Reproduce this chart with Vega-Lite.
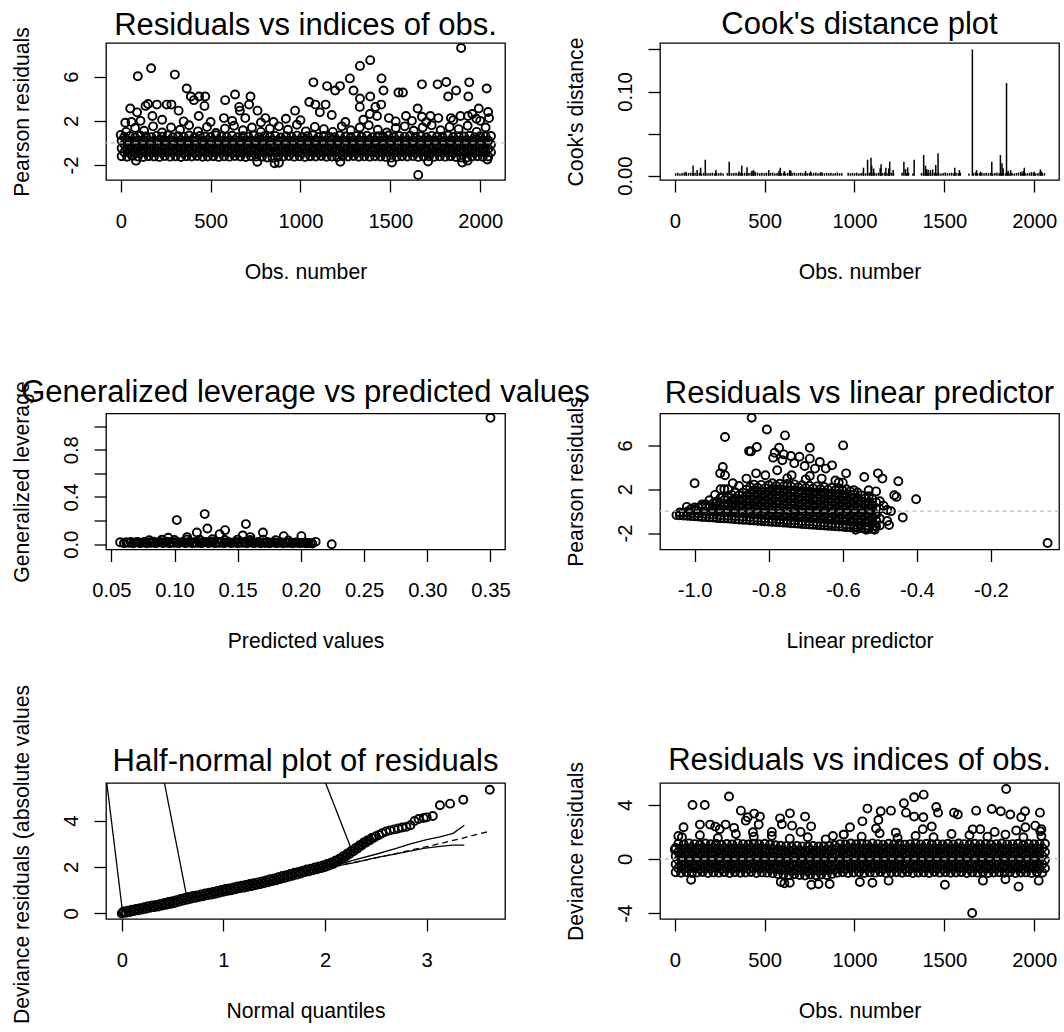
{
"$schema":"https://vega.github.io/schema/vega-lite/v6.json",
"autosize":{"type":"none"},
"padding":{"left":106,"top":43,"right":958,"bottom":989},
"background":"white",
"columns":2,
"spacing":{"row":233.5,"column":155},
"bounds":"flush",
"config":{
 "view":{"stroke":"black","strokeWidth":1.3},
 "font":"Liberation Sans",
 "axis":{"domain":false,"grid":false,"tickColor":"black","tickWidth":1.3,"tickSize":12,"labelFont":"Liberation Sans","labelFontSize":20.2,"labelColor":"black","labelOverlap":false,"labelFlush":false,"labelLimit":500,"titleFont":"Liberation Sans","titleFontSize":21.2,"titleFontWeight":"normal","titleColor":"black","titleLimit":1000},
 "axisX":{"labelPadding":19,"titleBaseline":"alphabetic"},
 "axisY":{"labelAngle":270,"labelAlign":"center","labelBaseline":"alphabetic","labelPadding":16.5,"titleBaseline":"alphabetic"},
 "title":{"font":"Liberation Sans","fontSize":31,"fontWeight":"normal","color":"black","anchor":"middle","frame":"group","baseline":"alphabetic","limit":2000},
 "point":{"shape":"circle","filled":false,"color":"black","strokeWidth":1.9,"size":64,"opacity":1}
},
"datasets":{
"p1":[
{"x":5,"y":-1.2},{"x":35,"y":-1.25},{"x":65,"y":-1.18},{"x":95,"y":-1.23},{"x":125,"y":-1.27},{"x":155,"y":-1.2},{"x":185,"y":-1.22},{"x":215,"y":-1.26},{"x":245,"y":-1.19},{"x":275,"y":-1.24},
{"x":305,"y":-1.21},{"x":335,"y":-1.27},{"x":365,"y":-1.2},{"x":395,"y":-1.23},{"x":425,"y":-1.18},{"x":455,"y":-1.25},{"x":485,"y":-1.22},{"x":515,"y":-1.2},{"x":545,"y":-1.26},{"x":575,"y":-1.21},
{"x":605,"y":-1.24},{"x":635,"y":-1.19},{"x":665,"y":-1.23},{"x":695,"y":-1.27},{"x":725,"y":-1.2},{"x":755,"y":-1.22},{"x":785,"y":-1.25},{"x":815,"y":-1.32},{"x":845,"y":-1.35},{"x":875,"y":-1.28},
{"x":905,"y":-1.22},{"x":935,"y":-1.19},{"x":965,"y":-1.24},{"x":995,"y":-1.21},{"x":1025,"y":-1.26},{"x":1055,"y":-1.2},{"x":1085,"y":-1.23},{"x":1115,"y":-1.18},{"x":1145,"y":-1.25},{"x":1175,"y":-1.22},
{"x":1205,"y":-1.27},{"x":1235,"y":-1.2},{"x":1265,"y":-1.23},{"x":1295,"y":-1.19},{"x":1325,"y":-1.25},{"x":1355,"y":-1.21},{"x":1385,"y":-1.24},{"x":1415,"y":-1.2},{"x":1445,"y":-1.22},{"x":1475,"y":-1.26},
{"x":1505,"y":-1.33},{"x":1535,"y":-1.24},{"x":1565,"y":-1.2},{"x":1595,"y":-1.23},{"x":1625,"y":-1.19},{"x":1655,"y":-1.26},{"x":1685,"y":-1.22},{"x":1715,"y":-1.2},{"x":1745,"y":-1.25},{"x":1775,"y":-1.21},
{"x":1805,"y":-1.24},{"x":1835,"y":-1.2},{"x":1865,"y":-1.27},{"x":1895,"y":-1.32},{"x":1925,"y":-1.34},{"x":1955,"y":-1.23},{"x":1985,"y":-1.2},{"x":2015,"y":-1.25},{"x":2045,"y":-1.22},
{"x":20,"y":-0.84},{"x":50,"y":-0.88},{"x":80,"y":-0.85},{"x":110,"y":-0.9},{"x":140,"y":-0.83},{"x":170,"y":-0.87},{"x":200,"y":-0.86},{"x":230,"y":-0.89},{"x":260,"y":-0.84},{"x":290,"y":-0.87},
{"x":320,"y":-0.85},{"x":350,"y":-0.9},{"x":380,"y":-0.83},{"x":410,"y":-0.88},{"x":440,"y":-0.86},{"x":470,"y":-0.84},{"x":500,"y":-0.89},{"x":530,"y":-0.85},{"x":560,"y":-0.87},{"x":590,"y":-0.83},
{"x":620,"y":-0.88},{"x":650,"y":-0.86},{"x":680,"y":-0.9},{"x":710,"y":-0.84},{"x":740,"y":-0.87},{"x":770,"y":-0.85},{"x":800,"y":-0.89},{"x":830,"y":-0.83},{"x":860,"y":-0.88},{"x":890,"y":-0.86},
{"x":920,"y":-0.84},{"x":950,"y":-0.87},{"x":980,"y":-0.85},{"x":1010,"y":-0.9},{"x":1040,"y":-0.86},{"x":1070,"y":-0.83},{"x":1100,"y":-0.88},{"x":1130,"y":-0.85},{"x":1160,"y":-0.87},{"x":1190,"y":-0.84},
{"x":1220,"y":-0.89},{"x":1250,"y":-0.86},{"x":1280,"y":-0.84},{"x":1310,"y":-0.88},{"x":1340,"y":-0.85},{"x":1370,"y":-0.87},{"x":1400,"y":-0.83},{"x":1430,"y":-0.9},{"x":1460,"y":-0.86},{"x":1490,"y":-0.84},
{"x":1520,"y":-0.88},{"x":1550,"y":-0.85},{"x":1580,"y":-0.87},{"x":1610,"y":-0.83},{"x":1640,"y":-0.89},{"x":1670,"y":-0.86},{"x":1700,"y":-0.84},{"x":1730,"y":-0.88},{"x":1760,"y":-0.85},{"x":1790,"y":-0.87},
{"x":1820,"y":-0.86},{"x":1850,"y":-0.9},{"x":1880,"y":-0.84},{"x":1910,"y":-0.87},{"x":1940,"y":-0.85},{"x":1970,"y":-0.88},{"x":2000,"y":-0.83},{"x":2030,"y":-0.86},{"x":2060,"y":-0.84},
{"x":5,"y":-0.48},{"x":35,"y":-0.52},{"x":65,"y":-0.5},{"x":95,"y":-0.46},{"x":125,"y":-0.53},{"x":155,"y":-0.49},{"x":185,"y":-0.51},{"x":215,"y":-0.47},{"x":245,"y":-0.54},{"x":275,"y":-0.5},
{"x":305,"y":-0.52},{"x":335,"y":-0.48},{"x":365,"y":-0.5},{"x":395,"y":-0.53},{"x":425,"y":-0.47},{"x":455,"y":-0.51},{"x":485,"y":-0.49},{"x":515,"y":-0.54},{"x":545,"y":-0.5},{"x":575,"y":-0.46},
{"x":605,"y":-0.52},{"x":635,"y":-0.49},{"x":665,"y":-0.51},{"x":695,"y":-0.47},{"x":725,"y":-0.53},{"x":755,"y":-0.5},{"x":785,"y":-0.48},{"x":815,"y":-0.52},{"x":845,"y":-0.46},{"x":875,"y":-0.51},
{"x":905,"y":-0.49},{"x":935,"y":-0.53},{"x":965,"y":-0.5},{"x":995,"y":-0.47},{"x":1025,"y":-0.52},{"x":1055,"y":-0.48},{"x":1085,"y":-0.54},{"x":1115,"y":-0.5},{"x":1145,"y":-0.51},{"x":1175,"y":-0.47},
{"x":1205,"y":-0.53},{"x":1235,"y":-0.49},{"x":1265,"y":-0.5},{"x":1295,"y":-0.52},{"x":1325,"y":-0.46},{"x":1355,"y":-0.51},{"x":1385,"y":-0.48},{"x":1415,"y":-0.53},{"x":1445,"y":-0.5},{"x":1475,"y":-0.49},
{"x":1505,"y":-0.52},{"x":1535,"y":-0.47},{"x":1565,"y":-0.51},{"x":1595,"y":-0.5},{"x":1625,"y":-0.54},{"x":1655,"y":-0.48},{"x":1685,"y":-0.52},{"x":1715,"y":-0.49},{"x":1745,"y":-0.46},{"x":1775,"y":-0.51},
{"x":1805,"y":-0.5},{"x":1835,"y":-0.53},{"x":1865,"y":-0.48},{"x":1895,"y":-0.51},{"x":1925,"y":-0.49},{"x":1955,"y":-0.52},{"x":1985,"y":-0.47},{"x":2015,"y":-0.5},{"x":2045,"y":-0.53},
{"x":20,"y":-0.12},{"x":50,"y":-0.16},{"x":80,"y":-0.13},{"x":110,"y":-0.1},{"x":140,"y":-0.17},{"x":170,"y":-0.14},{"x":200,"y":-0.11},{"x":230,"y":-0.15},{"x":260,"y":-0.18},{"x":290,"y":-0.13},
{"x":320,"y":-0.15},{"x":350,"y":-0.11},{"x":380,"y":-0.14},{"x":410,"y":-0.17},{"x":440,"y":-0.12},{"x":470,"y":-0.16},{"x":500,"y":-0.13},{"x":530,"y":-0.1},{"x":560,"y":-0.15},{"x":590,"y":-0.14},
{"x":620,"y":-0.17},{"x":650,"y":-0.12},{"x":680,"y":-0.15},{"x":710,"y":-0.13},{"x":740,"y":-0.11},{"x":770,"y":-0.16},{"x":800,"y":-0.14},{"x":830,"y":-0.18},{"x":860,"y":-0.12},{"x":890,"y":-0.15},
{"x":920,"y":-0.13},{"x":950,"y":-0.16},{"x":980,"y":-0.1},{"x":1010,"y":-0.14},{"x":1040,"y":-0.17},{"x":1070,"y":-0.12},{"x":1100,"y":-0.15},{"x":1130,"y":-0.13},{"x":1160,"y":-0.16},{"x":1190,"y":-0.11},
{"x":1220,"y":-0.14},{"x":1250,"y":-0.18},{"x":1280,"y":-0.12},{"x":1310,"y":-0.15},{"x":1340,"y":-0.13},{"x":1370,"y":-0.16},{"x":1400,"y":-0.1},{"x":1430,"y":-0.14},{"x":1460,"y":-0.17},{"x":1490,"y":-0.12},
{"x":1520,"y":-0.15},{"x":1550,"y":-0.13},{"x":1580,"y":-0.16},{"x":1610,"y":-0.11},{"x":1640,"y":-0.14},{"x":1670,"y":-0.17},{"x":1700,"y":-0.12},{"x":1730,"y":-0.15},{"x":1760,"y":-0.13},{"x":1790,"y":-0.16},
{"x":1820,"y":-0.1},{"x":1850,"y":-0.14},{"x":1880,"y":-0.17},{"x":1910,"y":-0.12},{"x":1940,"y":-0.15},{"x":1970,"y":-0.13},{"x":2000,"y":-0.16},{"x":2030,"y":-0.11},{"x":2060,"y":-0.14},
{"x":5,"y":0.2},{"x":35,"y":0.25},{"x":65,"y":0.18},{"x":95,"y":0.23},{"x":125,"y":0.27},{"x":155,"y":0.21},{"x":185,"y":0.19},{"x":215,"y":0.24},{"x":245,"y":0.22},{"x":275,"y":0.26},
{"x":305,"y":0.17},{"x":335,"y":0.23},{"x":365,"y":0.2},{"x":395,"y":0.25},{"x":425,"y":0.22},{"x":455,"y":0.18},{"x":485,"y":0.26},{"x":515,"y":0.21},{"x":545,"y":0.24},{"x":575,"y":0.19},
{"x":605,"y":0.23},{"x":635,"y":0.27},{"x":665,"y":0.2},{"x":695,"y":0.22},{"x":725,"y":0.25},{"x":755,"y":0.18},{"x":785,"y":0.24},{"x":815,"y":0.21},{"x":845,"y":0.26},{"x":875,"y":0.2},
{"x":905,"y":0.23},{"x":935,"y":0.19},{"x":965,"y":0.25},{"x":995,"y":0.22},{"x":1025,"y":0.27},{"x":1055,"y":0.2},{"x":1085,"y":0.24},{"x":1115,"y":0.18},{"x":1145,"y":0.22},{"x":1175,"y":0.26},
{"x":1205,"y":0.21},{"x":1235,"y":0.24},{"x":1265,"y":0.19},{"x":1295,"y":0.23},{"x":1325,"y":0.25},{"x":1355,"y":0.2},{"x":1385,"y":0.27},{"x":1415,"y":0.22},{"x":1445,"y":0.18},{"x":1475,"y":0.24},
{"x":1505,"y":0.21},{"x":1535,"y":0.26},{"x":1565,"y":0.2},{"x":1595,"y":0.23},{"x":1625,"y":0.19},{"x":1655,"y":0.25},{"x":1685,"y":0.22},{"x":1715,"y":0.27},{"x":1745,"y":0.2},{"x":1775,"y":0.24},
{"x":1805,"y":0.18},{"x":1835,"y":0.23},{"x":1865,"y":0.26},{"x":1895,"y":0.21},{"x":1925,"y":0.24},{"x":1955,"y":0.19},{"x":1985,"y":0.22},{"x":2015,"y":0.25},{"x":2045,"y":0.2},
{"x":20,"y":0.55},{"x":50,"y":0.62},{"x":80,"y":0.5},{"x":110,"y":0.66},{"x":140,"y":0.58},{"x":170,"y":0.53},{"x":200,"y":0.64},{"x":230,"y":0.57},{"x":260,"y":0.69},{"x":290,"y":0.52},
{"x":320,"y":0.6},{"x":350,"y":0.56},{"x":380,"y":0.67},{"x":410,"y":0.51},{"x":440,"y":0.63},{"x":470,"y":0.58},{"x":500,"y":0.54},{"x":530,"y":0.7},{"x":560,"y":0.59},{"x":590,"y":0.55},
{"x":620,"y":0.65},{"x":650,"y":0.52},{"x":680,"y":0.61},{"x":710,"y":0.57},{"x":740,"y":0.68},{"x":770,"y":0.53},{"x":800,"y":0.6},{"x":830,"y":0.56},{"x":860,"y":0.64},{"x":890,"y":0.5},
{"x":920,"y":0.62},{"x":950,"y":0.58},{"x":980,"y":0.66},{"x":1010,"y":0.54},{"x":1040,"y":0.6},{"x":1070,"y":0.69},{"x":1100,"y":0.55},{"x":1130,"y":0.63},{"x":1160,"y":0.57},{"x":1190,"y":0.52},
{"x":1220,"y":0.67},{"x":1250,"y":0.59},{"x":1280,"y":0.54},{"x":1310,"y":0.62},{"x":1340,"y":0.56},{"x":1370,"y":0.65},{"x":1400,"y":0.51},{"x":1430,"y":0.6},{"x":1460,"y":0.58},{"x":1490,"y":0.68},
{"x":1520,"y":0.53},{"x":1550,"y":0.63},{"x":1580,"y":0.57},{"x":1610,"y":0.66},{"x":1640,"y":0.55},{"x":1670,"y":0.61},{"x":1700,"y":0.52},{"x":1730,"y":0.64},{"x":1760,"y":0.59},{"x":1790,"y":0.56},
{"x":1820,"y":0.68},{"x":1850,"y":0.54},{"x":1880,"y":0.62},{"x":1910,"y":0.58},{"x":1940,"y":0.65},{"x":1970,"y":0.51},{"x":2000,"y":0.6},{"x":2030,"y":0.57},{"x":2060,"y":0.63},
{"x":30,"y":1.0},{"x":80,"y":1.35},{"x":130,"y":1.1},{"x":180,"y":1.5},{"x":230,"y":0.95},{"x":280,"y":1.4},{"x":330,"y":1.2},{"x":380,"y":1.6},{"x":430,"y":1.05},{"x":480,"y":1.45},{"x":530,"y":0.9},{"x":580,"y":1.3},{"x":630,"y":1.55},{"x":680,"y":1.15},{"x":730,"y":1.4},{"x":780,"y":1.0},{"x":830,"y":1.3},{"x":880,"y":1.5},{"x":930,"y":1.2},{"x":980,"y":1.65},{"x":1030,"y":1.05},{"x":1080,"y":1.45},{"x":1130,"y":1.25},{"x":1180,"y":1.0},{"x":1230,"y":1.5},{"x":1280,"y":1.15},{"x":1330,"y":1.4},{"x":1380,"y":1.6},{"x":1430,"y":1.2},{"x":1480,"y":0.95},{"x":1530,"y":1.35},{"x":1580,"y":1.5},{"x":1630,"y":1.1},{"x":1680,"y":1.4},{"x":1730,"y":1.6},{"x":1780,"y":1.15},{"x":1830,"y":1.45},{"x":1880,"y":1.25},{"x":1930,"y":1.55},{"x":1980,"y":1.0},{"x":2030,"y":1.4},
{"x":1894,"y":8.58},{"x":1388,"y":7.49},{"x":1331,"y":6.97},{"x":169,"y":6.76},{"x":95,"y":6.03},{"x":301,"y":6.18},{"x":1072,"y":5.48},{"x":1275,"y":5.84},{"x":1451,"y":5.84},{"x":1939,"y":5.48},{"x":1676,"y":5.3},{"x":1763,"y":5.3},{"x":1811,"y":5.51},{"x":2036,"y":4.93},{"x":1148,"y":5.14},{"x":1193,"y":4.75},{"x":1220,"y":5.14},{"x":1295,"y":4.75},{"x":1462,"y":4.75},{"x":1866,"y":4.75},{"x":367,"y":4.93},{"x":636,"y":4.38},{"x":1545,"y":4.57},{"x":1570,"y":4.57},{"x":1822,"y":4.2},{"x":1934,"y":4.2},{"x":1388,"y":4.2},{"x":1331,"y":4.02},{"x":390,"y":4.2},{"x":407,"y":3.87},{"x":436,"y":4.2},{"x":470,"y":4.2},{"x":722,"y":4.2},{"x":581,"y":3.87},{"x":466,"y":3.35},{"x":1049,"y":3.71},{"x":1083,"y":3.47},{"x":1140,"y":3.47},{"x":1330,"y":3.26},{"x":1417,"y":3.26},{"x":1449,"y":3.47},{"x":714,"y":3.47},{"x":659,"y":3.26},{"x":1652,"y":3.11},{"x":1992,"y":3.11},{"x":53,"y":3.11},{"x":138,"y":3.35},{"x":152,"y":3.53},{"x":256,"y":3.47},{"x":282,"y":3.47},{"x":201,"y":3.47},{"x":322,"y":2.92},{"x":91,"y":2.77},{"x":970,"y":2.92},{"x":761,"y":2.92},{"x":663,"y":2.92},{"x":2044,"y":2.8},{"x":1108,"y":2.77},{"x":1174,"y":2.53},{"x":1386,"y":2.62},{"x":1426,"y":2.44},{"x":1932,"y":2.44},{"x":1956,"y":2.62},{"x":2049,"y":2.25},{"x":1587,"y":2.44},{"x":1676,"y":2.37},{"x":1723,"y":2.44},{"x":1767,"y":2.25},{"x":1837,"y":2.25},{"x":1890,"y":2.44},{"x":434,"y":2.44},{"x":574,"y":2.25},{"x":693,"y":2.25},{"x":805,"y":2.25},{"x":919,"y":2.19},{"x":1492,"y":2.25},{"x":1979,"y":2.19},{"x":176,"y":2.44},{"x":0,"y":0.73},{"x":25,"y":1.83},{"x":1655,"y":-2.89},{"x":85,"y":-1.6},{"x":856,"y":-1.83},{"x":1509,"y":-1.77},{"x":1900,"y":-1.77},{"x":1222,"y":-1.7},{"x":1710,"y":-1.68},{"x":1930,"y":-1.6},{"x":2040,"y":-1.5},{"x":760,"y":-1.7},{"x":880,"y":-1.8},
{"x":60,"y":1.9},{"x":110,"y":2.0},{"x":230,"y":2.1},{"x":350,"y":1.95},{"x":500,"y":1.9},{"x":620,"y":2.0},{"x":780,"y":1.85},{"x":850,"y":1.9},{"x":1000,"y":2.05},{"x":1250,"y":1.9},{"x":1350,"y":2.1},{"x":1530,"y":1.95},{"x":1620,"y":2.0},{"x":1700,"y":1.9},{"x":1850,"y":2.05},{"x":2000,"y":2.0}
],
"p6":[
{"x":5,"y":-0.98},{"x":35,"y":-1.02},{"x":65,"y":-0.97},{"x":95,"y":-1.03},{"x":125,"y":-1.0},{"x":155,"y":-0.96},{"x":185,"y":-1.04},{"x":215,"y":-0.99},{"x":245,"y":-1.01},{"x":275,"y":-0.97},
{"x":305,"y":-1.03},{"x":335,"y":-0.98},{"x":365,"y":-1.02},{"x":395,"y":-1.0},{"x":425,"y":-0.96},{"x":455,"y":-1.04},{"x":485,"y":-0.99},{"x":515,"y":-1.01},{"x":545,"y":-1.06},{"x":575,"y":-1.12},
{"x":605,"y":-1.15},{"x":635,"y":-1.2},{"x":665,"y":-1.13},{"x":695,"y":-1.18},{"x":725,"y":-1.22},{"x":755,"y":-1.15},{"x":785,"y":-1.2},{"x":815,"y":-1.14},{"x":845,"y":-1.18},{"x":875,"y":-1.1},
{"x":905,"y":-1.02},{"x":935,"y":-0.98},{"x":965,"y":-1.03},{"x":995,"y":-1.0},{"x":1025,"y":-0.97},{"x":1055,"y":-1.04},{"x":1085,"y":-0.99},{"x":1115,"y":-1.01},{"x":1145,"y":-0.96},{"x":1175,"y":-1.03},
{"x":1205,"y":-1.0},{"x":1235,"y":-0.98},{"x":1265,"y":-1.02},{"x":1295,"y":-0.97},{"x":1325,"y":-1.04},{"x":1355,"y":-1.0},{"x":1385,"y":-0.99},{"x":1415,"y":-1.03},{"x":1445,"y":-0.96},{"x":1475,"y":-1.01},
{"x":1505,"y":-0.98},{"x":1535,"y":-1.02},{"x":1565,"y":-1.0},{"x":1595,"y":-0.97},{"x":1625,"y":-1.04},{"x":1655,"y":-0.99},{"x":1685,"y":-1.01},{"x":1715,"y":-0.96},{"x":1745,"y":-1.03},{"x":1775,"y":-1.0},
{"x":1805,"y":-0.98},{"x":1835,"y":-1.02},{"x":1865,"y":-0.97},{"x":1895,"y":-1.04},{"x":1925,"y":-1.0},{"x":1955,"y":-0.99},{"x":1985,"y":-1.03},{"x":2015,"y":-0.98},{"x":2045,"y":-1.01},
{"x":20,"y":-0.68},{"x":50,"y":-0.72},{"x":80,"y":-0.7},{"x":110,"y":-0.66},{"x":140,"y":-0.73},{"x":170,"y":-0.69},{"x":200,"y":-0.71},{"x":230,"y":-0.67},{"x":260,"y":-0.74},{"x":290,"y":-0.7},
{"x":320,"y":-0.72},{"x":350,"y":-0.68},{"x":380,"y":-0.7},{"x":410,"y":-0.73},{"x":440,"y":-0.67},{"x":470,"y":-0.71},{"x":500,"y":-0.69},{"x":530,"y":-0.74},{"x":560,"y":-0.76},{"x":590,"y":-0.82},
{"x":620,"y":-0.85},{"x":650,"y":-0.88},{"x":680,"y":-0.83},{"x":710,"y":-0.87},{"x":740,"y":-0.9},{"x":770,"y":-0.84},{"x":800,"y":-0.88},{"x":830,"y":-0.86},{"x":860,"y":-0.83},{"x":890,"y":-0.78},
{"x":920,"y":-0.7},{"x":950,"y":-0.73},{"x":980,"y":-0.68},{"x":1010,"y":-0.71},{"x":1040,"y":-0.69},{"x":1070,"y":-0.72},{"x":1100,"y":-0.67},{"x":1130,"y":-0.7},{"x":1160,"y":-0.73},{"x":1190,"y":-0.68},
{"x":1220,"y":-0.71},{"x":1250,"y":-0.69},{"x":1280,"y":-0.74},{"x":1310,"y":-0.7},{"x":1340,"y":-0.67},{"x":1370,"y":-0.72},{"x":1400,"y":-0.68},{"x":1430,"y":-0.71},{"x":1460,"y":-0.7},{"x":1490,"y":-0.73},
{"x":1520,"y":-0.69},{"x":1550,"y":-0.72},{"x":1580,"y":-0.67},{"x":1610,"y":-0.7},{"x":1640,"y":-0.74},{"x":1670,"y":-0.68},{"x":1700,"y":-0.71},{"x":1730,"y":-0.69},{"x":1760,"y":-0.73},{"x":1790,"y":-0.7},
{"x":1820,"y":-0.67},{"x":1850,"y":-0.72},{"x":1880,"y":-0.7},{"x":1910,"y":-0.68},{"x":1940,"y":-0.73},{"x":1970,"y":-0.69},{"x":2000,"y":-0.71},{"x":2030,"y":-0.7},{"x":2060,"y":-0.68},
{"x":5,"y":-0.38},{"x":35,"y":-0.42},{"x":65,"y":-0.4},{"x":95,"y":-0.36},{"x":125,"y":-0.43},{"x":155,"y":-0.39},{"x":185,"y":-0.41},{"x":215,"y":-0.37},{"x":245,"y":-0.44},{"x":275,"y":-0.4},
{"x":305,"y":-0.42},{"x":335,"y":-0.38},{"x":365,"y":-0.4},{"x":395,"y":-0.43},{"x":425,"y":-0.37},{"x":455,"y":-0.41},{"x":485,"y":-0.39},{"x":515,"y":-0.44},{"x":545,"y":-0.47},{"x":575,"y":-0.52},
{"x":605,"y":-0.55},{"x":635,"y":-0.58},{"x":665,"y":-0.53},{"x":695,"y":-0.57},{"x":725,"y":-0.6},{"x":755,"y":-0.54},{"x":785,"y":-0.58},{"x":815,"y":-0.56},{"x":845,"y":-0.53},{"x":875,"y":-0.48},
{"x":905,"y":-0.4},{"x":935,"y":-0.43},{"x":965,"y":-0.38},{"x":995,"y":-0.41},{"x":1025,"y":-0.39},{"x":1055,"y":-0.42},{"x":1085,"y":-0.37},{"x":1115,"y":-0.4},{"x":1145,"y":-0.43},{"x":1175,"y":-0.38},
{"x":1205,"y":-0.41},{"x":1235,"y":-0.39},{"x":1265,"y":-0.44},{"x":1295,"y":-0.4},{"x":1325,"y":-0.37},{"x":1355,"y":-0.42},{"x":1385,"y":-0.38},{"x":1415,"y":-0.41},{"x":1445,"y":-0.4},{"x":1475,"y":-0.43},
{"x":1505,"y":-0.39},{"x":1535,"y":-0.42},{"x":1565,"y":-0.37},{"x":1595,"y":-0.4},{"x":1625,"y":-0.44},{"x":1655,"y":-0.38},{"x":1685,"y":-0.41},{"x":1715,"y":-0.39},{"x":1745,"y":-0.43},{"x":1775,"y":-0.4},
{"x":1805,"y":-0.37},{"x":1835,"y":-0.42},{"x":1865,"y":-0.4},{"x":1895,"y":-0.38},{"x":1925,"y":-0.43},{"x":1955,"y":-0.39},{"x":1985,"y":-0.41},{"x":2015,"y":-0.4},{"x":2045,"y":-0.38},
{"x":20,"y":-0.08},{"x":50,"y":-0.12},{"x":80,"y":-0.1},{"x":110,"y":-0.06},{"x":140,"y":-0.13},{"x":170,"y":-0.09},{"x":200,"y":-0.11},{"x":230,"y":-0.07},{"x":260,"y":-0.14},{"x":290,"y":-0.1},
{"x":320,"y":-0.12},{"x":350,"y":-0.08},{"x":380,"y":-0.1},{"x":410,"y":-0.13},{"x":440,"y":-0.07},{"x":470,"y":-0.11},{"x":500,"y":-0.09},{"x":530,"y":-0.14},{"x":560,"y":-0.16},{"x":590,"y":-0.22},
{"x":620,"y":-0.25},{"x":650,"y":-0.28},{"x":680,"y":-0.23},{"x":710,"y":-0.27},{"x":740,"y":-0.3},{"x":770,"y":-0.24},{"x":800,"y":-0.28},{"x":830,"y":-0.26},{"x":860,"y":-0.23},{"x":890,"y":-0.18},
{"x":920,"y":-0.1},{"x":950,"y":-0.13},{"x":980,"y":-0.08},{"x":1010,"y":-0.11},{"x":1040,"y":-0.09},{"x":1070,"y":-0.12},{"x":1100,"y":-0.07},{"x":1130,"y":-0.1},{"x":1160,"y":-0.13},{"x":1190,"y":-0.08},
{"x":1220,"y":-0.11},{"x":1250,"y":-0.09},{"x":1280,"y":-0.14},{"x":1310,"y":-0.1},{"x":1340,"y":-0.07},{"x":1370,"y":-0.12},{"x":1400,"y":-0.08},{"x":1430,"y":-0.11},{"x":1460,"y":-0.1},{"x":1490,"y":-0.13},
{"x":1520,"y":-0.09},{"x":1550,"y":-0.12},{"x":1580,"y":-0.07},{"x":1610,"y":-0.1},{"x":1640,"y":-0.14},{"x":1670,"y":-0.08},{"x":1700,"y":-0.11},{"x":1730,"y":-0.09},{"x":1760,"y":-0.13},{"x":1790,"y":-0.1},
{"x":1820,"y":-0.07},{"x":1850,"y":-0.12},{"x":1880,"y":-0.1},{"x":1910,"y":-0.08},{"x":1940,"y":-0.13},{"x":1970,"y":-0.09},{"x":2000,"y":-0.11},{"x":2030,"y":-0.1},{"x":2060,"y":-0.08},
{"x":5,"y":0.22},{"x":35,"y":0.18},{"x":65,"y":0.2},{"x":95,"y":0.24},{"x":125,"y":0.17},{"x":155,"y":0.21},{"x":185,"y":0.19},{"x":215,"y":0.23},{"x":245,"y":0.16},{"x":275,"y":0.2},
{"x":305,"y":0.18},{"x":335,"y":0.22},{"x":365,"y":0.2},{"x":395,"y":0.17},{"x":425,"y":0.23},{"x":455,"y":0.19},{"x":485,"y":0.21},{"x":515,"y":0.16},{"x":545,"y":0.14},{"x":575,"y":0.08},
{"x":605,"y":0.05},{"x":635,"y":0.02},{"x":665,"y":0.07},{"x":695,"y":0.03},{"x":725,"y":0.0},{"x":755,"y":0.06},{"x":785,"y":0.02},{"x":815,"y":0.04},{"x":845,"y":0.07},{"x":875,"y":0.12},
{"x":905,"y":0.2},{"x":935,"y":0.17},{"x":965,"y":0.22},{"x":995,"y":0.19},{"x":1025,"y":0.21},{"x":1055,"y":0.18},{"x":1085,"y":0.23},{"x":1115,"y":0.2},{"x":1145,"y":0.17},{"x":1175,"y":0.22},
{"x":1205,"y":0.19},{"x":1235,"y":0.21},{"x":1265,"y":0.16},{"x":1295,"y":0.2},{"x":1325,"y":0.23},{"x":1355,"y":0.18},{"x":1385,"y":0.22},{"x":1415,"y":0.19},{"x":1445,"y":0.2},{"x":1475,"y":0.17},
{"x":1505,"y":0.21},{"x":1535,"y":0.18},{"x":1565,"y":0.23},{"x":1595,"y":0.2},{"x":1625,"y":0.16},{"x":1655,"y":0.22},{"x":1685,"y":0.19},{"x":1715,"y":0.21},{"x":1745,"y":0.17},{"x":1775,"y":0.2},
{"x":1805,"y":0.23},{"x":1835,"y":0.18},{"x":1865,"y":0.2},{"x":1895,"y":0.22},{"x":1925,"y":0.17},{"x":1955,"y":0.21},{"x":1985,"y":0.19},{"x":2015,"y":0.2},{"x":2045,"y":0.22},
{"x":20,"y":0.52},{"x":50,"y":0.48},{"x":80,"y":0.5},{"x":110,"y":0.54},{"x":140,"y":0.47},{"x":170,"y":0.51},{"x":200,"y":0.49},{"x":230,"y":0.53},{"x":260,"y":0.46},{"x":290,"y":0.5},
{"x":320,"y":0.48},{"x":350,"y":0.52},{"x":380,"y":0.5},{"x":410,"y":0.47},{"x":440,"y":0.53},{"x":470,"y":0.49},{"x":500,"y":0.51},{"x":530,"y":0.46},{"x":560,"y":0.44},{"x":590,"y":0.38},
{"x":620,"y":0.35},{"x":650,"y":0.32},{"x":680,"y":0.37},{"x":710,"y":0.33},{"x":740,"y":0.3},{"x":770,"y":0.36},{"x":800,"y":0.32},{"x":830,"y":0.34},{"x":860,"y":0.37},{"x":890,"y":0.42},
{"x":920,"y":0.5},{"x":950,"y":0.47},{"x":980,"y":0.52},{"x":1010,"y":0.49},{"x":1040,"y":0.51},{"x":1070,"y":0.48},{"x":1100,"y":0.53},{"x":1130,"y":0.5},{"x":1160,"y":0.47},{"x":1190,"y":0.52},
{"x":1220,"y":0.49},{"x":1250,"y":0.51},{"x":1280,"y":0.46},{"x":1310,"y":0.5},{"x":1340,"y":0.53},{"x":1370,"y":0.48},{"x":1400,"y":0.52},{"x":1430,"y":0.49},{"x":1460,"y":0.5},{"x":1490,"y":0.47},
{"x":1520,"y":0.51},{"x":1550,"y":0.48},{"x":1580,"y":0.53},{"x":1610,"y":0.5},{"x":1640,"y":0.46},{"x":1670,"y":0.52},{"x":1700,"y":0.49},{"x":1730,"y":0.51},{"x":1760,"y":0.47},{"x":1790,"y":0.5},
{"x":1820,"y":0.53},{"x":1850,"y":0.48},{"x":1880,"y":0.5},{"x":1910,"y":0.52},{"x":1940,"y":0.47},{"x":1970,"y":0.51},{"x":2000,"y":0.49},{"x":2030,"y":0.5},{"x":2060,"y":0.52},
{"x":5,"y":0.82},{"x":35,"y":0.78},{"x":65,"y":0.8},{"x":95,"y":0.84},{"x":125,"y":0.77},{"x":155,"y":0.81},{"x":185,"y":0.79},{"x":215,"y":0.83},{"x":245,"y":0.76},{"x":275,"y":0.8},
{"x":305,"y":0.78},{"x":335,"y":0.82},{"x":365,"y":0.8},{"x":395,"y":0.77},{"x":425,"y":0.83},{"x":455,"y":0.79},{"x":485,"y":0.81},{"x":515,"y":0.76},{"x":545,"y":0.74},{"x":575,"y":0.68},
{"x":605,"y":0.65},{"x":635,"y":0.62},{"x":665,"y":0.67},{"x":695,"y":0.63},{"x":725,"y":0.6},{"x":755,"y":0.66},{"x":785,"y":0.62},{"x":815,"y":0.64},{"x":845,"y":0.67},{"x":875,"y":0.72},
{"x":905,"y":0.8},{"x":935,"y":0.77},{"x":965,"y":0.82},{"x":995,"y":0.79},{"x":1025,"y":0.81},{"x":1055,"y":0.78},{"x":1085,"y":0.83},{"x":1115,"y":0.8},{"x":1145,"y":0.77},{"x":1175,"y":0.82},
{"x":1205,"y":0.79},{"x":1235,"y":0.81},{"x":1265,"y":0.76},{"x":1295,"y":0.8},{"x":1325,"y":0.83},{"x":1355,"y":0.78},{"x":1385,"y":0.82},{"x":1415,"y":0.79},{"x":1445,"y":0.8},{"x":1475,"y":0.77},
{"x":1505,"y":0.81},{"x":1535,"y":0.78},{"x":1565,"y":0.83},{"x":1595,"y":0.8},{"x":1625,"y":0.76},{"x":1655,"y":0.82},{"x":1685,"y":0.79},{"x":1715,"y":0.81},{"x":1745,"y":0.77},{"x":1775,"y":0.8},
{"x":1805,"y":0.83},{"x":1835,"y":0.78},{"x":1865,"y":0.8},{"x":1895,"y":0.82},{"x":1925,"y":0.77},{"x":1955,"y":0.81},{"x":1985,"y":0.79},{"x":2015,"y":0.8},{"x":2045,"y":0.82},
{"x":20,"y":1.12},{"x":50,"y":1.08},{"x":80,"y":1.15},{"x":110,"y":1.1},{"x":140,"y":1.05},{"x":170,"y":1.14},{"x":200,"y":1.09},{"x":230,"y":1.13},{"x":260,"y":1.06},{"x":290,"y":1.11},
{"x":320,"y":1.08},{"x":350,"y":1.15},{"x":380,"y":1.1},{"x":410,"y":1.07},{"x":440,"y":1.13},{"x":470,"y":1.09},{"x":500,"y":1.12},{"x":530,"y":1.06},{"x":560,"y":1.02},{"x":590,"y":0.98},
{"x":620,"y":0.95},{"x":650,"y":0.92},{"x":680,"y":0.97},{"x":710,"y":0.93},{"x":740,"y":0.9},{"x":770,"y":0.96},{"x":800,"y":0.92},{"x":830,"y":0.94},{"x":860,"y":0.97},{"x":890,"y":1.02},
{"x":920,"y":1.1},{"x":950,"y":1.07},{"x":980,"y":1.14},{"x":1010,"y":1.09},{"x":1040,"y":1.12},{"x":1070,"y":1.08},{"x":1100,"y":1.15},{"x":1130,"y":1.1},{"x":1160,"y":1.06},{"x":1190,"y":1.13},
{"x":1220,"y":1.09},{"x":1250,"y":1.12},{"x":1280,"y":1.06},{"x":1310,"y":1.1},{"x":1340,"y":1.15},{"x":1370,"y":1.08},{"x":1400,"y":1.13},{"x":1430,"y":1.09},{"x":1460,"y":1.11},{"x":1490,"y":1.07},
{"x":1520,"y":1.12},{"x":1550,"y":1.08},{"x":1580,"y":1.14},{"x":1610,"y":1.1},{"x":1640,"y":1.06},{"x":1670,"y":1.13},{"x":1700,"y":1.09},{"x":1730,"y":1.11},{"x":1760,"y":1.07},{"x":1790,"y":1.1},
{"x":1820,"y":1.14},{"x":1850,"y":1.08},{"x":1880,"y":1.1},{"x":1910,"y":1.13},{"x":1940,"y":1.07},{"x":1970,"y":1.11},{"x":2000,"y":1.09},{"x":2030,"y":1.1},{"x":2060,"y":1.12},
{"x":40,"y":1.6},{"x":140,"y":1.75},{"x":240,"y":1.55},{"x":340,"y":1.85},{"x":440,"y":1.65},{"x":540,"y":1.7},{"x":640,"y":1.5},{"x":740,"y":1.6},{"x":840,"y":1.45},{"x":940,"y":1.8},{"x":1040,"y":1.65},{"x":1140,"y":1.9},{"x":1240,"y":1.55},{"x":1340,"y":1.7},{"x":1440,"y":1.6},{"x":1540,"y":1.85},{"x":1640,"y":1.75},{"x":1740,"y":1.65},{"x":1840,"y":1.8},{"x":1940,"y":1.6},{"x":2040,"y":1.7},
{"x":1844,"y":5.17},{"x":1385,"y":4.75},{"x":1332,"y":4.56},{"x":302,"y":4.61},{"x":99,"y":3.99},{"x":167,"y":3.99},{"x":1275,"y":4.11},{"x":1072,"y":3.72},{"x":368,"y":3.57},{"x":1146,"y":3.52},{"x":1455,"y":3.84},{"x":1677,"y":3.57},{"x":1764,"y":3.69},{"x":1814,"y":3.52},{"x":1949,"y":3.52},{"x":2032,"y":3.42},{"x":1554,"y":3.42},{"x":1575,"y":3.28},{"x":1867,"y":3.28},{"x":1928,"y":3.08},{"x":1383,"y":3.08},{"x":1287,"y":3.42},{"x":1332,"y":3.13},{"x":1465,"y":3.42},{"x":1203,"y":3.57},{"x":406,"y":3.08},{"x":586,"y":3.0},{"x":641,"y":3.37},{"x":725,"y":3.13},{"x":442,"y":3.35},{"x":474,"y":3.13},{"x":395,"y":2.83},{"x":467,"y":2.54},{"x":435,"y":1.97},{"x":596,"y":2.56},{"x":653,"y":2.46},{"x":759,"y":2.41},{"x":1044,"y":2.78},{"x":1133,"y":2.88},{"x":1658,"y":2.19},{"x":1951,"y":2.34},{"x":2006,"y":2.46},{"x":2034,"y":2.04},{"x":975,"y":2.34},{"x":49,"y":2.34},{"x":140,"y":2.54},{"x":197,"y":2.54},{"x":226,"y":2.39},{"x":283,"y":2.54},{"x":1503,"y":-1.9},{"x":1655,"y":-3.99},{"x":1913,"y":-2.04},{"x":2025,"y":-1.6},{"x":862,"y":-1.85},{"x":91,"y":-1.53},{"x":1715,"y":-1.6},{"x":590,"y":-1.7},{"x":610,"y":-1.8},{"x":640,"y":-1.75},{"x":760,"y":-1.9},{"x":800,"y":-1.85},{"x":1030,"y":-1.7},{"x":1100,"y":-1.75},{"x":1190,"y":-1.6},{"x":1840,"y":-1.5},{"x":0,"y":0.7},{"x":20,"y":1.7},{"x":1120,"y":2.25},{"x":1230,"y":1.95},{"x":1380,"y":2.2},{"x":1430,"y":2.4},{"x":1700,"y":2.2},{"x":1780,"y":2.0},{"x":1900,"y":2.1},{"x":2040,"y":2.2},{"x":700,"y":2.0},{"x":250,"y":2.2},{"x":330,"y":2.3},{"x":540,"y":2.0},{"x":880,"y":1.7},{"x":940,"y":1.8}
],
"ck":[
{"x":5,"c":0.0029},{"x":17,"c":0.0034},{"x":29,"c":0.0027},{"x":41,"c":0.0033},{"x":53,"c":0.0038},{"x":65,"c":0.0029},{"x":77,"c":0.0032},{"x":89,"c":0.0036},{"x":101,"c":0.0028},{"x":113,"c":0.0034},{"x":125,"c":0.003},{"x":137,"c":0.0035},{"x":149,"c":0.0027},{"x":161,"c":0.0033},{"x":173,"c":0.0038},{"x":185,"c":0.0029},{"x":197,"c":0.0032},{"x":209,"c":0.0036},{"x":221,"c":0.0028},{"x":233,"c":0.0034},{"x":245,"c":0.003},{"x":257,"c":0.0035},{"x":269,"c":0.0027},{"x":293,"c":0.0033},{"x":305,"c":0.0038},{"x":317,"c":0.0029},{"x":329,"c":0.0032},{"x":341,"c":0.0036},{"x":353,"c":0.0028},{"x":365,"c":0.0034},{"x":377,"c":0.003},{"x":389,"c":0.0035},{"x":401,"c":0.0027},{"x":413,"c":0.0033},{"x":425,"c":0.0038},{"x":437,"c":0.0029},{"x":449,"c":0.0032},{"x":461,"c":0.0036},{"x":473,"c":0.0028},{"x":485,"c":0.0034},{"x":497,"c":0.003},{"x":509,"c":0.0035},{"x":521,"c":0.0027},{"x":533,"c":0.0033},{"x":545,"c":0.0038},{"x":557,"c":0.0029},{"x":569,"c":0.0032},{"x":581,"c":0.0036},{"x":593,"c":0.0028},{"x":605,"c":0.0034},{"x":617,"c":0.003},{"x":629,"c":0.0035},{"x":641,"c":0.0027},{"x":653,"c":0.0033},{"x":665,"c":0.0038},{"x":677,"c":0.0029},{"x":689,"c":0.0032},{"x":701,"c":0.0036},{"x":713,"c":0.0028},{"x":725,"c":0.0034},{"x":737,"c":0.003},{"x":749,"c":0.0035},{"x":761,"c":0.0027},{"x":773,"c":0.0033},{"x":785,"c":0.0038},{"x":797,"c":0.0029},{"x":809,"c":0.0032},{"x":821,"c":0.0036},{"x":833,"c":0.0028},{"x":845,"c":0.0034},{"x":857,"c":0.003},{"x":869,"c":0.0035},{"x":881,"c":0.0027},{"x":893,"c":0.0033},{"x":905,"c":0.0038},{"x":917,"c":0.0029},{"x":929,"c":0.0032},{"x":965,"c":0.0036},{"x":977,"c":0.0028},{"x":989,"c":0.0034},{"x":1001,"c":0.003},{"x":1013,"c":0.0035},{"x":1025,"c":0.0027},{"x":1037,"c":0.0033},{"x":1049,"c":0.0038},{"x":1061,"c":0.0029},{"x":1073,"c":0.0032},{"x":1085,"c":0.0036},{"x":1097,"c":0.0028},{"x":1109,"c":0.0034},{"x":1121,"c":0.003},{"x":1133,"c":0.0035},{"x":1145,"c":0.0027},{"x":1157,"c":0.0033},{"x":1169,"c":0.0038},{"x":1181,"c":0.0029},{"x":1193,"c":0.0032},{"x":1205,"c":0.0036},{"x":1217,"c":0.0028},{"x":1265,"c":0.0034},{"x":1289,"c":0.003},{"x":1301,"c":0.0035},{"x":1325,"c":0.0027},{"x":1373,"c":0.0033},{"x":1385,"c":0.0038},{"x":1397,"c":0.0029},{"x":1409,"c":0.0032},{"x":1421,"c":0.0036},{"x":1433,"c":0.0028},{"x":1445,"c":0.0034},{"x":1457,"c":0.003},{"x":1469,"c":0.0035},{"x":1481,"c":0.0027},{"x":1493,"c":0.0033},{"x":1505,"c":0.0038},{"x":1517,"c":0.0029},{"x":1529,"c":0.0032},{"x":1541,"c":0.0036},{"x":1553,"c":0.0028},{"x":1565,"c":0.0034},{"x":1577,"c":0.003},{"x":1589,"c":0.0035},{"x":1637,"c":0.0027},{"x":1661,"c":0.0033},{"x":1673,"c":0.0038},{"x":1685,"c":0.0029},{"x":1697,"c":0.0032},{"x":1709,"c":0.0036},{"x":1721,"c":0.0028},{"x":1733,"c":0.0034},{"x":1745,"c":0.003},{"x":1757,"c":0.0035},{"x":1769,"c":0.0027},{"x":1781,"c":0.0033},{"x":1793,"c":0.0038},{"x":1805,"c":0.0029},{"x":1817,"c":0.0032},{"x":1829,"c":0.0036},{"x":1841,"c":0.0028},{"x":1853,"c":0.0034},{"x":1865,"c":0.003},{"x":1877,"c":0.0035},{"x":1889,"c":0.0027},{"x":1901,"c":0.0033},{"x":1913,"c":0.0038},{"x":1925,"c":0.0029},{"x":1937,"c":0.0032},{"x":1949,"c":0.0036},{"x":1961,"c":0.0028},{"x":1973,"c":0.0034},{"x":1985,"c":0.003},{"x":1997,"c":0.0035},{"x":2009,"c":0.0027},{"x":2021,"c":0.0033},{"x":2033,"c":0.0038},{"x":2045,"c":0.0029},{"x":2057,"c":0.0032},
{"x":1656,"c":0.15},{"x":1846,"c":0.11},{"x":1465,"c":0.0266},{"x":1385,"c":0.0246},{"x":1092,"c":0.0214},{"x":1073,"c":0.019},{"x":1196,"c":0.0167},{"x":1275,"c":0.0167},{"x":1332,"c":0.019},{"x":1296,"c":0.0099},{"x":1764,"c":0.0167},{"x":1812,"c":0.0246},{"x":1821,"c":0.0147},{"x":170,"c":0.019},{"x":303,"c":0.0167},{"x":373,"c":0.012},{"x":102,"c":0.012},{"x":144,"c":0.0095},{"x":402,"c":0.0099},{"x":438,"c":0.0067},{"x":229,"c":0.0067},{"x":587,"c":0.0095},{"x":523,"c":0.0067},{"x":640,"c":0.0067},{"x":728,"c":0.0056},{"x":1148,"c":0.0135},{"x":1175,"c":0.0095},{"x":1558,"c":0.0095},{"x":1584,"c":0.0067},{"x":1395,"c":0.012},{"x":1452,"c":0.0127},{"x":1423,"c":0.0067},{"x":1945,"c":0.0095},{"x":2034,"c":0.0075},{"x":1679,"c":0.0067},{"x":1702,"c":0.0048},{"x":2001,"c":0.0048},{"x":1869,"c":0.0067},{"x":1926,"c":0.0048},{"x":1050,"c":0.0095},{"x":1215,"c":0.0067},{"x":63,"c":0.0048},{"x":125,"c":0.0067},{"x":610,"c":0.0055},{"x":646,"c":0.006},{"x":757,"c":0.005},{"x":813,"c":0.0045},{"x":1107,"c":0.0085},{"x":1284,"c":0.008},{"x":1401,"c":0.008},{"x":1410,"c":0.007},{"x":1435,"c":0.0075},{"x":1827,"c":0.009},{"x":1855,"c":0.006},{"x":1939,"c":0.0055},{"x":1985,"c":0.0045},{"x":2041,"c":0.005},{"x":357,"c":0.005},{"x":430,"c":0.006},{"x":447,"c":0.005},{"x":580,"c":0.006},{"x":1096,"c":0.012},{"x":1143,"c":0.009},{"x":1191,"c":0.0085}
],
"p3":[
{"x":0.06,"y":0.008},{"x":0.0618,"y":0.016},{"x":0.0636,"y":0.011},{"x":0.0654,"y":0.019},{"x":0.0672,"y":0.007},{"x":0.069,"y":0.014},{"x":0.0708,"y":0.018},{"x":0.0726,"y":0.009},{"x":0.0744,"y":0.013},{"x":0.0762,"y":0.02},
{"x":0.078,"y":0.008},{"x":0.0798,"y":0.016},{"x":0.0816,"y":0.011},{"x":0.0834,"y":0.021},{"x":0.0852,"y":0.007},{"x":0.087,"y":0.015},{"x":0.0888,"y":0.019},{"x":0.0906,"y":0.01},{"x":0.0924,"y":0.013},{"x":0.0942,"y":0.022},
{"x":0.096,"y":0.008},{"x":0.0978,"y":0.017},{"x":0.0996,"y":0.011},{"x":0.1014,"y":0.02},{"x":0.1032,"y":0.007},{"x":0.105,"y":0.015},{"x":0.1068,"y":0.019},{"x":0.1086,"y":0.009},{"x":0.1104,"y":0.014},{"x":0.1122,"y":0.021},
{"x":0.114,"y":0.008},{"x":0.1158,"y":0.016},{"x":0.1176,"y":0.011},{"x":0.1194,"y":0.02},{"x":0.1212,"y":0.007},{"x":0.123,"y":0.014},{"x":0.1248,"y":0.019},{"x":0.1266,"y":0.01},{"x":0.1284,"y":0.013},{"x":0.1302,"y":0.021},
{"x":0.132,"y":0.008},{"x":0.1338,"y":0.016},{"x":0.1356,"y":0.011},{"x":0.1374,"y":0.02},{"x":0.1392,"y":0.007},{"x":0.141,"y":0.015},{"x":0.1428,"y":0.018},{"x":0.1446,"y":0.009},{"x":0.1464,"y":0.013},{"x":0.1482,"y":0.02},
{"x":0.15,"y":0.008},{"x":0.1518,"y":0.016},{"x":0.1536,"y":0.011},{"x":0.1554,"y":0.019},{"x":0.1572,"y":0.007},{"x":0.159,"y":0.014},{"x":0.1608,"y":0.018},{"x":0.1626,"y":0.009},{"x":0.1644,"y":0.013},{"x":0.1662,"y":0.019},
{"x":0.168,"y":0.008},{"x":0.1698,"y":0.015},{"x":0.1716,"y":0.01},{"x":0.1734,"y":0.018},{"x":0.1752,"y":0.007},{"x":0.177,"y":0.013},{"x":0.1788,"y":0.017},{"x":0.1806,"y":0.009},{"x":0.1824,"y":0.012},{"x":0.1842,"y":0.016},
{"x":0.186,"y":0.008},{"x":0.1878,"y":0.013},{"x":0.1896,"y":0.01},{"x":0.1914,"y":0.015},{"x":0.1932,"y":0.007},{"x":0.195,"y":0.012},{"x":0.1968,"y":0.014},{"x":0.1986,"y":0.009},{"x":0.2004,"y":0.011},{"x":0.2022,"y":0.013},
{"x":0.204,"y":0.008},{"x":0.2058,"y":0.011},{"x":0.2076,"y":0.009},
{"x":0.08,"y":0.034},{"x":0.09,"y":0.038},{"x":0.1,"y":0.036},{"x":0.11,"y":0.04},{"x":0.12,"y":0.037},{"x":0.13,"y":0.042},{"x":0.14,"y":0.036},{"x":0.15,"y":0.039},{"x":0.16,"y":0.035},{"x":0.17,"y":0.038},{"x":0.18,"y":0.034},{"x":0.19,"y":0.032},
{"x":0.35,"y":1.07},{"x":0.1239,"y":0.255},{"x":0.1018,"y":0.204},{"x":0.1565,"y":0.17},{"x":0.126,"y":0.133},{"x":0.14,"y":0.119},{"x":0.1177,"y":0.099},{"x":0.17,"y":0.099},{"x":0.1357,"y":0.085},{"x":0.154,"y":0.074},{"x":0.1864,"y":0.068},{"x":0.2004,"y":0.068},{"x":0.2117,"y":0.02},{"x":0.2244,"y":0.0},{"x":0.057,"y":0.017},{"x":0.205,"y":0.01},{"x":0.209,"y":0.006},{"x":0.16,"y":0.06},{"x":0.11,"y":0.06},{"x":0.095,"y":0.055}
],
"p4":[
{"x":-1.04,"y":-0.38},{"x":-1.04,"y":-0.12},{"x":-1.02,"y":-0.43},{"x":-1.02,"y":-0.06},{"x":-1.0,"y":-0.47},{"x":-1.0,"y":0.04},{"x":-1.0,"y":0.33},{"x":-0.98,"y":-0.53},{"x":-0.98,"y":-0.04},{"x":-0.98,"y":0.42},{"x":-0.96,"y":-0.57},{"x":-0.96,"y":-0.06},{"x":-0.96,"y":0.5},{"x":-0.94,"y":-0.62},{"x":-0.94,"y":-0.1},{"x":-0.94,"y":0.44},{"x":-0.94,"y":0.88},{"x":-0.92,"y":-0.66},{"x":-0.92,"y":-0.12},{"x":-0.92,"y":0.46},{"x":-0.92,"y":1.02},{"x":-0.9,"y":-0.71},{"x":-0.9,"y":-0.16},{"x":-0.9,"y":0.4},{"x":-0.9,"y":0.95},{"x":-0.9,"y":1.48},{"x":-0.88,"y":-0.76},{"x":-0.88,"y":-0.2},{"x":-0.88,"y":0.36},{"x":-0.88,"y":0.9},{"x":-0.88,"y":1.44},{"x":-0.86,"y":-0.8},{"x":-0.86,"y":-0.26},{"x":-0.86,"y":0.3},{"x":-0.86,"y":0.85},{"x":-0.86,"y":1.4},{"x":-0.86,"y":1.96},
{"x":-0.84,"y":-0.86},{"x":-0.84,"y":-0.3},{"x":-0.84,"y":0.26},{"x":-0.84,"y":0.8},{"x":-0.84,"y":1.36},{"x":-0.84,"y":1.9},{"x":-0.84,"y":2.42},{"x":-0.82,"y":-0.9},{"x":-0.82,"y":-0.36},{"x":-0.82,"y":0.2},{"x":-0.82,"y":0.76},{"x":-0.82,"y":1.3},{"x":-0.82,"y":1.84},{"x":-0.82,"y":2.4},{"x":-0.8,"y":-0.96},{"x":-0.8,"y":-0.4},{"x":-0.8,"y":0.16},{"x":-0.8,"y":0.7},{"x":-0.8,"y":1.26},{"x":-0.8,"y":1.8},{"x":-0.8,"y":2.36},{"x":-0.78,"y":-1.0},{"x":-0.78,"y":-0.46},{"x":-0.78,"y":0.1},{"x":-0.78,"y":0.66},{"x":-0.78,"y":1.2},{"x":-0.78,"y":1.76},{"x":-0.78,"y":2.3},{"x":-0.76,"y":-1.05},{"x":-0.76,"y":-0.5},{"x":-0.76,"y":0.04},{"x":-0.76,"y":0.6},{"x":-0.76,"y":1.16},{"x":-0.76,"y":1.7},{"x":-0.76,"y":2.28},{"x":-0.74,"y":-1.1},{"x":-0.74,"y":-0.55},{"x":-0.74,"y":0.0},{"x":-0.74,"y":0.56},{"x":-0.74,"y":1.1},{"x":-0.74,"y":1.66},{"x":-0.74,"y":2.24},{"x":-0.72,"y":-1.14},{"x":-0.72,"y":-0.6},{"x":-0.72,"y":-0.04},{"x":-0.72,"y":0.5},{"x":-0.72,"y":1.06},{"x":-0.72,"y":1.6},{"x":-0.72,"y":2.18},
{"x":-0.7,"y":-1.19},{"x":-0.7,"y":-0.64},{"x":-0.7,"y":-0.1},{"x":-0.7,"y":0.46},{"x":-0.7,"y":1.0},{"x":-0.7,"y":1.56},{"x":-0.7,"y":2.1},{"x":-0.68,"y":-1.24},{"x":-0.68,"y":-0.7},{"x":-0.68,"y":-0.14},{"x":-0.68,"y":0.4},{"x":-0.68,"y":0.96},{"x":-0.68,"y":1.5},{"x":-0.68,"y":2.06},{"x":-0.66,"y":-1.29},{"x":-0.66,"y":-0.74},{"x":-0.66,"y":-0.2},{"x":-0.66,"y":0.36},{"x":-0.66,"y":0.9},{"x":-0.66,"y":1.46},{"x":-0.66,"y":2.0},{"x":-0.64,"y":-1.33},{"x":-0.64,"y":-0.8},{"x":-0.64,"y":-0.24},{"x":-0.64,"y":0.3},{"x":-0.64,"y":0.86},{"x":-0.64,"y":1.4},{"x":-0.64,"y":1.96},{"x":-0.62,"y":-1.38},{"x":-0.62,"y":-0.84},{"x":-0.62,"y":-0.3},{"x":-0.62,"y":0.26},{"x":-0.62,"y":0.8},{"x":-0.62,"y":1.36},{"x":-0.62,"y":1.9},{"x":-0.6,"y":-1.43},{"x":-0.6,"y":-0.9},{"x":-0.6,"y":-0.34},{"x":-0.6,"y":0.2},{"x":-0.6,"y":0.76},{"x":-0.6,"y":1.3},{"x":-0.6,"y":1.86},{"x":-0.58,"y":-1.48},{"x":-0.58,"y":-0.94},{"x":-0.58,"y":-0.4},{"x":-0.58,"y":0.16},{"x":-0.58,"y":0.7},{"x":-0.58,"y":1.26},{"x":-0.58,"y":1.8},{"x":-0.56,"y":-1.53},{"x":-0.56,"y":-1.0},{"x":-0.56,"y":-0.44},{"x":-0.56,"y":0.1},{"x":-0.56,"y":0.66},{"x":-0.56,"y":1.2},{"x":-0.56,"y":1.7},{"x":-0.54,"y":-1.57},{"x":-0.54,"y":-1.04},{"x":-0.54,"y":-0.5},{"x":-0.54,"y":0.06},{"x":-0.54,"y":0.6},{"x":-0.54,"y":1.16},{"x":-0.52,"y":-1.62},{"x":-0.52,"y":-1.1},{"x":-0.52,"y":-0.56},{"x":-0.52,"y":0.0},{"x":-0.52,"y":0.54},{"x":-0.52,"y":1.1},{"x":-0.5,"y":-1.3},{"x":-0.5,"y":-0.7},{"x":-0.5,"y":0.2},{"x":-0.5,"y":0.9},{"x":-0.48,"y":-0.9},{"x":-0.48,"y":0.1},
{"x":-1.03,"y":-0.4},{"x":-1.03,"y":-0.15},{"x":-1.01,"y":-0.45},{"x":-1.01,"y":-0.2},{"x":-1.01,"y":0.2},{"x":-0.99,"y":-0.49},{"x":-0.99,"y":-0.22},{"x":-0.99,"y":0.3},{"x":-0.97,"y":-0.54},{"x":-0.97,"y":-0.27},{"x":-0.97,"y":0.28},{"x":-0.97,"y":0.6},{"x":-0.95,"y":-0.59},{"x":-0.95,"y":-0.32},{"x":-0.95,"y":0.23},{"x":-0.95,"y":0.7},{"x":-0.93,"y":-0.64},{"x":-0.93,"y":-0.37},{"x":-0.93,"y":0.18},{"x":-0.93,"y":0.73},{"x":-0.93,"y":1.2},{"x":-0.91,"y":-0.68},{"x":-0.91,"y":-0.42},{"x":-0.91,"y":0.13},{"x":-0.91,"y":0.68},{"x":-0.91,"y":1.22},{"x":-0.89,"y":-0.73},{"x":-0.89,"y":-0.46},{"x":-0.89,"y":0.1},{"x":-0.89,"y":0.64},{"x":-0.89,"y":1.18},{"x":-0.89,"y":1.7},{"x":-0.87,"y":-0.78},{"x":-0.87,"y":-0.52},{"x":-0.87,"y":0.03},{"x":-0.87,"y":0.58},{"x":-0.87,"y":1.12},{"x":-0.87,"y":1.68},{"x":-0.85,"y":-0.83},{"x":-0.85,"y":-0.56},{"x":-0.85,"y":0.0},{"x":-0.85,"y":0.54},{"x":-0.85,"y":1.08},{"x":-0.85,"y":1.64},{"x":-0.85,"y":2.2},{"x":-0.83,"y":-0.88},{"x":-0.83,"y":-0.62},{"x":-0.83,"y":-0.06},{"x":-0.83,"y":0.5},{"x":-0.83,"y":1.04},{"x":-0.83,"y":1.6},{"x":-0.83,"y":2.14},{"x":-0.81,"y":-0.93},{"x":-0.81,"y":-0.66},{"x":-0.81,"y":-0.1},{"x":-0.81,"y":0.44},{"x":-0.81,"y":1.0},{"x":-0.81,"y":1.54},{"x":-0.81,"y":2.1},
{"x":-0.79,"y":-0.98},{"x":-0.79,"y":-0.72},{"x":-0.79,"y":-0.16},{"x":-0.79,"y":0.4},{"x":-0.79,"y":0.94},{"x":-0.79,"y":1.5},{"x":-0.79,"y":2.04},{"x":-0.79,"y":2.55},{"x":-0.77,"y":-1.02},{"x":-0.77,"y":-0.76},{"x":-0.77,"y":-0.2},{"x":-0.77,"y":0.34},{"x":-0.77,"y":0.9},{"x":-0.77,"y":1.44},{"x":-0.77,"y":2.0},{"x":-0.77,"y":2.5},{"x":-0.75,"y":-1.07},{"x":-0.75,"y":-0.82},{"x":-0.75,"y":-0.26},{"x":-0.75,"y":0.3},{"x":-0.75,"y":0.84},{"x":-0.75,"y":1.4},{"x":-0.75,"y":1.94},{"x":-0.75,"y":2.48},{"x":-0.73,"y":-1.12},{"x":-0.73,"y":-0.86},{"x":-0.73,"y":-0.3},{"x":-0.73,"y":0.24},{"x":-0.73,"y":0.8},{"x":-0.73,"y":1.34},{"x":-0.73,"y":1.9},{"x":-0.73,"y":2.44},{"x":-0.71,"y":-1.17},{"x":-0.71,"y":-0.92},{"x":-0.71,"y":-0.36},{"x":-0.71,"y":0.2},{"x":-0.71,"y":0.74},{"x":-0.71,"y":1.3},{"x":-0.71,"y":1.84},{"x":-0.71,"y":2.36},{"x":-0.69,"y":-1.22},{"x":-0.69,"y":-0.96},{"x":-0.69,"y":-0.4},{"x":-0.69,"y":0.14},{"x":-0.69,"y":0.7},{"x":-0.69,"y":1.24},{"x":-0.69,"y":1.8},{"x":-0.69,"y":2.32},{"x":-0.67,"y":-1.26},{"x":-0.67,"y":-1.02},{"x":-0.67,"y":-0.46},{"x":-0.67,"y":0.1},{"x":-0.67,"y":0.64},{"x":-0.67,"y":1.2},{"x":-0.67,"y":1.74},{"x":-0.67,"y":2.26},{"x":-0.65,"y":-1.31},{"x":-0.65,"y":-1.06},{"x":-0.65,"y":-0.5},{"x":-0.65,"y":0.04},{"x":-0.65,"y":0.6},{"x":-0.65,"y":1.14},{"x":-0.65,"y":1.7},{"x":-0.65,"y":2.2},{"x":-0.63,"y":-1.36},{"x":-0.63,"y":-1.12},{"x":-0.63,"y":-0.56},{"x":-0.63,"y":0.0},{"x":-0.63,"y":0.54},{"x":-0.63,"y":1.1},{"x":-0.63,"y":1.64},{"x":-0.63,"y":2.14},{"x":-0.61,"y":-1.41},{"x":-0.61,"y":-1.16},{"x":-0.61,"y":-0.6},{"x":-0.61,"y":-0.06},{"x":-0.61,"y":0.5},{"x":-0.61,"y":1.04},{"x":-0.61,"y":1.6},{"x":-0.61,"y":2.08},{"x":-0.59,"y":-1.46},{"x":-0.59,"y":-1.22},{"x":-0.59,"y":-0.66},{"x":-0.59,"y":-0.1},{"x":-0.59,"y":0.44},{"x":-0.59,"y":1.0},{"x":-0.59,"y":1.54},{"x":-0.59,"y":2.0},{"x":-0.57,"y":-1.5},{"x":-0.57,"y":-1.26},{"x":-0.57,"y":-0.7},{"x":-0.57,"y":-0.16},{"x":-0.57,"y":0.4},{"x":-0.57,"y":0.94},{"x":-0.57,"y":1.5},{"x":-0.57,"y":1.9},{"x":-0.55,"y":-1.55},{"x":-0.55,"y":-1.32},{"x":-0.55,"y":-0.76},{"x":-0.55,"y":-0.2},{"x":-0.55,"y":0.34},{"x":-0.55,"y":0.9},{"x":-0.55,"y":1.44},{"x":-0.53,"y":-1.6},{"x":-0.53,"y":-1.36},{"x":-0.53,"y":-0.8},{"x":-0.53,"y":-0.26},{"x":-0.53,"y":0.3},{"x":-0.53,"y":0.84},{"x":-0.53,"y":1.36},{"x":-0.51,"y":-1.4},{"x":-0.51,"y":-0.86},{"x":-0.51,"y":-0.3},{"x":-0.51,"y":0.26},{"x":-0.51,"y":0.8},
{"x":-0.846,"y":8.52},{"x":-0.805,"y":7.45},{"x":-0.756,"y":6.91},{"x":-0.918,"y":6.76},{"x":-0.599,"y":6.0},{"x":-0.832,"y":5.85},{"x":-0.853,"y":5.48},{"x":-0.848,"y":5.45},{"x":-0.689,"y":5.79},{"x":-0.772,"y":5.79},{"x":-0.784,"y":5.33},{"x":-0.788,"y":4.88},{"x":-0.759,"y":5.18},{"x":-0.74,"y":5.03},{"x":-0.717,"y":4.97},{"x":-0.689,"y":4.79},{"x":-0.662,"y":4.48},{"x":-0.629,"y":4.18},{"x":-0.646,"y":3.88},{"x":-0.675,"y":3.88},{"x":-0.763,"y":4.64},{"x":-0.731,"y":4.36},{"x":-0.703,"y":4.12},{"x":-0.924,"y":4.03},{"x":-0.931,"y":3.45},{"x":-0.918,"y":3.27},{"x":-1.0,"y":2.55},{"x":-0.591,"y":3.45},{"x":-0.542,"y":3.12},{"x":-0.505,"y":3.45},{"x":-0.493,"y":2.97},{"x":-0.45,"y":2.73},{"x":-0.402,"y":1.09},{"x":-0.461,"y":1.45},{"x":-0.455,"y":1.3},{"x":-0.438,"y":-0.58},{"x":-0.475,"y":-1.27},{"x":-0.047,"y":-2.91},{"x":-0.834,"y":3.45},{"x":-0.809,"y":3.27},{"x":-0.777,"y":3.73},{"x":-0.738,"y":3.27},{"x":-0.86,"y":2.97},{"x":-0.897,"y":2.55},{"x":-0.689,"y":3.21},{"x":-0.657,"y":2.97},{"x":-0.611,"y":2.61},{"x":-0.945,"y":1.48},{"x":-1.021,"y":0.39},{"x":-1.049,"y":-0.36},{"x":-0.996,"y":0.18},{"x":-0.514,"y":-1.33},{"x":-0.537,"y":-1.7},{"x":-0.565,"y":-1.7},{"x":-0.514,"y":-1.7},{"x":-0.92,"y":2.0},{"x":-0.91,"y":2.0},{"x":-0.93,"y":2.0},{"x":-0.88,"y":2.3},{"x":-0.98,"y":0.6},{"x":-0.96,"y":1.0},{"x":-0.51,"y":1.8},{"x":-0.53,"y":1.9},{"x":-0.49,"y":0.5},{"x":-0.47,"y":0.0},{"x":-0.6,"y":2.6},{"x":-0.62,"y":2.8},{"x":-0.7,"y":2.9},{"x":-0.75,"y":3.0}
],
"p5":[
{"x":0.0,"y":0.0},{"x":0.01,"y":0.05},{"x":0.02,"y":0.08},{"x":0.04,"y":0.03},{"x":0.06,"y":0.12},{"x":0.08,"y":0.06},{"x":0.1,"y":0.16},{"x":0.12,"y":0.1},{"x":0.14,"y":0.19},{"x":0.16,"y":0.13},{"x":0.18,"y":0.23},{"x":0.2,"y":0.17},{"x":0.22,"y":0.27},{"x":0.24,"y":0.2},{"x":0.26,"y":0.31},{"x":0.28,"y":0.24},{"x":0.3,"y":0.34},{"x":0.32,"y":0.27},{"x":0.34,"y":0.37},{"x":0.36,"y":0.3},{"x":0.38,"y":0.41},{"x":0.4,"y":0.34},{"x":0.42,"y":0.45},{"x":0.44,"y":0.37},{"x":0.46,"y":0.49},{"x":0.48,"y":0.41},{"x":0.5,"y":0.53},{"x":0.52,"y":0.45},{"x":0.54,"y":0.57},{"x":0.56,"y":0.5},{"x":0.58,"y":0.62},{"x":0.6,"y":0.55},{"x":0.62,"y":0.67},{"x":0.64,"y":0.59},{"x":0.66,"y":0.71},{"x":0.68,"y":0.63},{"x":0.7,"y":0.75},{"x":0.72,"y":0.67},{"x":0.74,"y":0.78},{"x":0.76,"y":0.71},{"x":0.78,"y":0.82},{"x":0.8,"y":0.74},{"x":0.82,"y":0.86},{"x":0.84,"y":0.78},{"x":0.86,"y":0.89},{"x":0.88,"y":0.81},{"x":0.9,"y":0.93},{"x":0.92,"y":0.85},{"x":0.94,"y":0.97},{"x":0.96,"y":0.89},{"x":0.98,"y":1.01},{"x":1.0,"y":0.93},{"x":1.02,"y":1.05},{"x":1.04,"y":0.97},{"x":1.06,"y":1.08},{"x":1.08,"y":1.0},{"x":1.1,"y":1.12},{"x":1.12,"y":1.04},{"x":1.14,"y":1.16},{"x":1.16,"y":1.08},{"x":1.18,"y":1.19},{"x":1.2,"y":1.11},{"x":1.22,"y":1.23},{"x":1.24,"y":1.15},{"x":1.26,"y":1.27},{"x":1.28,"y":1.18},{"x":1.3,"y":1.3},{"x":1.32,"y":1.22},{"x":1.34,"y":1.34},{"x":1.36,"y":1.26},{"x":1.38,"y":1.38},{"x":1.4,"y":1.3},{"x":1.42,"y":1.42},{"x":1.44,"y":1.34},{"x":1.46,"y":1.47},{"x":1.48,"y":1.39},{"x":1.5,"y":1.51},{"x":1.52,"y":1.43},{"x":1.54,"y":1.56},{"x":1.56,"y":1.48},{"x":1.58,"y":1.61},{"x":1.6,"y":1.53},{"x":1.62,"y":1.65},{"x":1.64,"y":1.58},{"x":1.66,"y":1.7},{"x":1.68,"y":1.62},{"x":1.7,"y":1.75},{"x":1.72,"y":1.67},{"x":1.74,"y":1.79},{"x":1.76,"y":1.72},{"x":1.78,"y":1.84},{"x":1.8,"y":1.77},{"x":1.82,"y":1.89},{"x":1.84,"y":1.81},{"x":1.86,"y":1.93},{"x":1.88,"y":1.86},{"x":1.9,"y":1.98},{"x":1.92,"y":1.9},{"x":1.94,"y":2.02},{"x":1.96,"y":1.95},{"x":1.98,"y":2.07},{"x":2.0,"y":2.0},{"x":2.02,"y":2.13},{"x":2.04,"y":2.06},{"x":2.06,"y":2.19},{"x":2.08,"y":2.13},{"x":2.1,"y":2.27},{"x":2.12,"y":2.22},{"x":2.14,"y":2.36},{"x":2.16,"y":2.33},{"x":2.18,"y":2.47},{"x":2.2,"y":2.44},{"x":2.22,"y":2.58},{"x":2.24,"y":2.56},{"x":2.26,"y":2.7},{"x":2.28,"y":2.68},{"x":2.3,"y":2.82},{"x":2.32,"y":2.8},{"x":2.34,"y":2.94},{"x":2.36,"y":2.93},{"x":2.38,"y":3.06},{"x":2.4,"y":3.05},{"x":2.42,"y":3.16},{"x":2.44,"y":3.15},{"x":2.46,"y":3.25},{"x":2.48,"y":3.26},{"x":2.5,"y":3.33},{"x":2.53,"y":3.38},{"x":2.56,"y":3.46},{"x":2.6,"y":3.53},{"x":2.64,"y":3.58},{"x":2.68,"y":3.62},{"x":2.72,"y":3.66},{"x":2.76,"y":3.7},{"x":2.8,"y":3.73},{"x":2.84,"y":3.8},{"x":2.88,"y":3.98},{"x":2.92,"y":4.07},{"x":2.97,"y":4.11},{"x":3.0,"y":4.14},{"x":3.06,"y":4.2},{"x":3.13,"y":4.66},{"x":3.23,"y":4.73},{"x":3.36,"y":4.9},{"x":3.62,"y":5.33}
],
"e5":[
{"g":"lo","x":1.9,"y":1.88},{"g":"lo","x":2.1,"y":2.03},{"g":"lo","x":2.3,"y":2.2},{"g":"lo","x":2.5,"y":2.4},{"g":"lo","x":2.7,"y":2.57},{"g":"lo","x":2.97,"y":2.8},{"g":"lo","x":3.13,"y":2.89},{"g":"lo","x":3.26,"y":2.94},{"g":"lo","x":3.37,"y":2.94},
{"g":"hi","x":1.9,"y":1.95},{"g":"hi","x":2.1,"y":2.08},{"g":"hi","x":2.3,"y":2.32},{"g":"hi","x":2.5,"y":2.55},{"g":"hi","x":2.7,"y":2.8},{"g":"hi","x":2.84,"y":3.0},{"g":"hi","x":3.0,"y":3.18},{"g":"hi","x":3.13,"y":3.3},{"g":"hi","x":3.26,"y":3.45},{"g":"hi","x":3.37,"y":3.8}
],
"m5":[
{"x":1.9,"y":1.9},{"x":2.1,"y":2.05},{"x":2.4,"y":2.3},{"x":2.8,"y":2.68},{"x":3.2,"y":3.08},{"x":3.62,"y":3.54}
],
"d5":[
{"x":-0.147,"y":5.62,"x2":0.005,"y2":0.17},{"x":0.42,"y":5.62,"x2":0.64,"y2":0.7},{"x":2.005,"y":5.62,"x2":2.26,"y2":2.75}
]
},
"concat":[
{"width":399,"height":137,
 "title":{"text":"Residuals vs indices of obs.","offset":-14.8},
 "layer":[
  {"data":{"name":"p1"},"mark":{"type":"point","clip":true},
   "encoding":{
    "x":{"field":"x","type":"quantitative","scale":{"domain":[-82,2138],"nice":false,"zero":false},"axis":{"title":"Obs. number","values":[0,500,1000,1500,2000],"format":"d","titleY":98}},
    "y":{"field":"y","type":"quantitative","scale":{"domain":[-3.35,9.04],"nice":false,"zero":false},"axis":{"title":"Pearson residuals","values":[-2,0,2,4,6,8],"labelExpr":"datum.value==-2?'-2':datum.value==2?'2':datum.value==6?'6':''","titleX":-77.5}}}},
  {"data":{"values":[{"z":0}]},"mark":{"type":"rule","color":"#bebebe","strokeWidth":1.3,"strokeDash":[4,3.5]},
   "encoding":{"y":{"field":"z","type":"quantitative","title":"Pearson residuals"}}}
 ]},
{"width":399,"height":137,
 "title":{"text":"Cook's distance plot","offset":-4},
 "data":{"name":"ck"},
 "mark":{"type":"rule","color":"black","strokeWidth":1.5,"clip":true},
 "encoding":{
  "x":{"field":"x","type":"quantitative","scale":{"domain":[-82,2138],"nice":false,"zero":false},"axis":{"title":"Obs. number","values":[0,500,1000,1500,2000],"format":"d","titleY":98}},
  "y":{"field":"c","type":"quantitative","scale":{"domain":[-0.0051,0.1576],"nice":false,"zero":false},"axis":{"title":"Cook's distance","values":[0,0.05,0.1,0.15],"labelExpr":"datum.value==0?'0.00':abs(datum.value-0.1)<0.000001?'0.10':''","titleX":-77.5}},
  "y2":{"datum":0}}},
{"width":399,"height":136,
 "title":{"text":"Generalized leverage vs predicted values","offset":-28.7},
 "data":{"name":"p3"},
 "mark":{"type":"point","clip":true},
 "encoding":{
  "x":{"field":"x","type":"quantitative","scale":{"domain":[0.0458,0.3615],"nice":false,"zero":false},"axis":{"title":"Predicted values","values":[0.05,0.1,0.15,0.2,0.25,0.3,0.35],"format":".2f","titleY":98}},
  "y":{"field":"y","type":"quantitative","scale":{"domain":[-0.045,1.107],"nice":false,"zero":false},"axis":{"title":"Generalized leverage","values":[0,0.2,0.4,0.6,0.8,1],"labelExpr":"datum.value==0?'0.0':abs(datum.value-0.4)<0.000001?'0.4':abs(datum.value-0.8)<0.000001?'0.8':''","titleX":-77.5}}}},
{"width":399,"height":136,
 "title":{"text":"Residuals vs linear predictor","offset":-12.8},
 "layer":[
  {"data":{"name":"p4"},"mark":{"type":"point","clip":true},
   "encoding":{
    "x":{"field":"x","type":"quantitative","scale":{"domain":[-1.0935,-0.0162],"nice":false,"zero":false},"axis":{"title":"Linear predictor","values":[-1,-0.8,-0.6,-0.4,-0.2],"labelExpr":"datum.value<0?'-'+format(-datum.value,'.1f'):format(datum.value,'.1f')","titleY":98}},
    "y":{"field":"y","type":"quantitative","scale":{"domain":[-3.5,8.91],"nice":false,"zero":false},"axis":{"title":"Pearson residuals","values":[-2,0,2,4,6,8],"labelExpr":"datum.value==-2?'-2':datum.value==2?'2':datum.value==6?'6':''","titleX":-77.5}}}},
  {"data":{"values":[{"z":0}]},"mark":{"type":"rule","color":"#bebebe","strokeWidth":1.3,"strokeDash":[4,3.5]},
   "encoding":{"y":{"field":"z","type":"quantitative","title":"Pearson residuals"}}}
 ]},
{"width":399,"height":136,
 "title":{"text":"Half-normal plot of residuals","offset":-93.2},
 "layer":[
  {"data":{"name":"p5"},"mark":{"type":"point","clip":true},
   "encoding":{
    "x":{"field":"x","type":"quantitative","scale":{"domain":[-0.155,3.77],"nice":false,"zero":false},"axis":{"title":"Normal quantiles","values":[0,1,2,3],"format":"d","titleY":98}},
    "y":{"field":"y","type":"quantitative","scale":{"domain":[-0.24,5.62],"nice":false,"zero":false},"axis":{"title":"Deviance residuals (absolute values","values":[0,1,2,3,4,5],"labelExpr":"datum.value==0?'0':datum.value==2?'2':datum.value==4?'4':''","titleX":-77.5,"titleY":71}}}},
  {"data":{"name":"e5"},"mark":{"type":"line","color":"black","strokeWidth":1.3,"clip":true},
   "encoding":{"x":{"field":"x","type":"quantitative","title":"Normal quantiles"},"y":{"field":"y","type":"quantitative","title":"Deviance residuals (absolute values"},"detail":{"field":"g","type":"nominal"}}},
  {"data":{"name":"m5"},"mark":{"type":"line","color":"black","strokeWidth":1.3,"strokeDash":[6,4],"clip":true},
   "encoding":{"x":{"field":"x","type":"quantitative","title":"Normal quantiles"},"y":{"field":"y","type":"quantitative","title":"Deviance residuals (absolute values"}}},
  {"data":{"name":"d5"},"mark":{"type":"rule","color":"black","strokeWidth":1.3,"clip":true},
   "encoding":{"x":{"field":"x","type":"quantitative","title":"Normal quantiles"},"y":{"field":"y","type":"quantitative","title":"Deviance residuals (absolute values"},"x2":{"field":"x2"},"y2":{"field":"y2"}}}
 ]},
{"width":399,"height":136,
 "title":{"text":"Residuals vs indices of obs.","offset":-16},
 "layer":[
  {"data":{"name":"p6"},"mark":{"type":"point","clip":true},
   "encoding":{
    "x":{"field":"x","type":"quantitative","scale":{"domain":[-82,2138],"nice":false,"zero":false},"axis":{"title":"Obs. number","values":[0,500,1000,1500,2000],"format":"d","titleY":98}},
    "y":{"field":"y","type":"quantitative","scale":{"domain":[-4.43,5.61],"nice":false,"zero":false},"axis":{"title":"Deviance residuals","values":[-4,-2,0,2,4],"labelExpr":"datum.value==-4?'-4':datum.value==0?'0':datum.value==4?'4':''","titleX":-77.5}}}},
  {"data":{"values":[{"z":0}]},"mark":{"type":"rule","color":"#bebebe","strokeWidth":1.3,"strokeDash":[4,3.5]},
   "encoding":{"y":{"field":"z","type":"quantitative","title":"Deviance residuals"}}}
 ]}
]
}
